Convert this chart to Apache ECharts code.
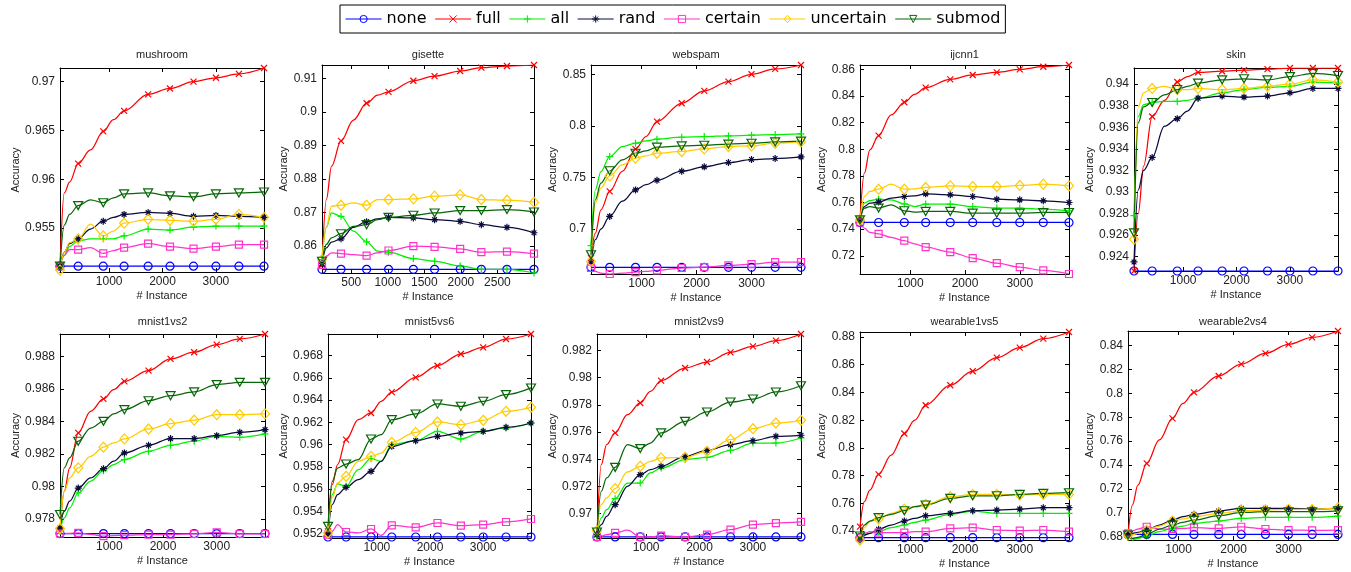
<!DOCTYPE html>
<html><head><meta charset="utf-8">
<script src="https://cdn.jsdelivr.net/npm/echarts@6/dist/echarts.min.js"></script>
<style>html,body{margin:0;padding:0;background:#fff}#c{width:1351px;height:572px}</style>
</head><body><div id="c"></div>
<script>
// ---------------- DATA ----------------
const seriesNames = ['none','full','all','rand','certain','uncertain','submod'];
const titles = ['mushroom','gisette','webspam','ijcnn1','skin','mnist1vs2','mnist5vs6','mnist2vs9','wearable1vs5','wearable2vs4'];

// x positions (# instance) of sampled points; markers sit on MARKER_IDX points
const X_STD = [80, 160, 260, 420, 650, 890, 1080, 1280, 1730, 2140, 2580, 3000, 3430, 3900];
const X_GIS = [100, 160, 230, 360, 530, 710, 860, 1010, 1350, 1640, 1990, 2280, 2630, 3000];
const MARKER_IDX = [0, 3, 5, 7, 8, 9, 10, 11, 12, 13];

// x axis ranges and tick labels
const XR_STD = [80, 3900];
const XR_GIS = [100, 3000];
const XT_STD = [1000, 2000, 3000];
const XT_GIS = [500, 1000, 1500, 2000, 2500];

// y axis ranges and tick labels
const YR_mushroom = [0.9505, 0.9714];
const YT_mushroom = [0.955, 0.96, 0.965, 0.97];
const YR_gisette = [0.852, 0.914];
const YT_gisette = [0.86, 0.87, 0.88, 0.89, 0.9, 0.91];
const YR_webspam = [0.6565, 0.859];
const YT_webspam = [0.7, 0.75, 0.8, 0.85];
const YR_ijcnn1 = [0.7063, 0.8633];
const YT_ijcnn1 = [0.72, 0.74, 0.76, 0.78, 0.8, 0.82, 0.84, 0.86];
const YR_skin = [0.92266, 0.9415];
const YT_skin = [0.924, 0.926, 0.928, 0.93, 0.932, 0.934, 0.936, 0.938, 0.94];
const YR_mnist1vs2 = [0.97689, 0.98937];
const YT_mnist1vs2 = [0.978, 0.98, 0.982, 0.984, 0.986, 0.988];
const YR_mnist5vs6 = [0.95161, 0.96995];
const YT_mnist5vs6 = [0.952, 0.954, 0.956, 0.958, 0.96, 0.962, 0.964, 0.966, 0.968];
const YR_mnist2vs9 = [0.96821, 0.9832];
const YT_mnist2vs9 = [0.97, 0.972, 0.974, 0.976, 0.978, 0.98, 0.982];
const YR_wearable1vs5 = [0.7336, 0.8836];
const YT_wearable1vs5 = [0.74, 0.76, 0.78, 0.8, 0.82, 0.84, 0.86, 0.88];
const YR_wearable2vs4 = [0.6772, 0.8523];
const YT_wearable2vs4 = [0.68, 0.7, 0.72, 0.74, 0.76, 0.78, 0.8, 0.82, 0.84];

// mushroom
const mushroom_none = [0.9511,0.9511,0.9511,0.9511,0.9511,0.9511,0.9511,0.9511,0.9511,0.9511,0.9511,0.9511,0.9511,0.9511];
const mushroom_full = [0.9511,0.9586,0.9597,0.9616,0.9630,0.9649,0.9661,0.9670,0.9687,0.9693,0.9700,0.9704,0.9708,0.9714];
const mushroom_all = [0.9511,0.9522,0.9531,0.9537,0.9539,0.9539,0.9539,0.9542,0.9549,0.9548,0.9551,0.9552,0.9552,0.9552];
const mushroom_rand = [0.9511,0.9525,0.9534,0.9539,0.9549,0.9557,0.9561,0.9564,0.9566,0.9565,0.9562,0.9563,0.9562,0.9561];
const mushroom_certain = [0.9511,0.9522,0.9528,0.9528,0.9530,0.9524,0.9527,0.9530,0.9534,0.9531,0.9529,0.9531,0.9533,0.9533];
const mushroom_uncertain = [0.9507,0.9525,0.9535,0.9539,0.9554,0.9542,0.9547,0.9555,0.9559,0.9558,0.9557,0.9559,0.9564,0.9561];
const mushroom_submod = [0.9511,0.9553,0.9564,0.9573,0.9579,0.9576,0.9581,0.9585,0.9586,0.9583,0.9582,0.9585,0.9586,0.9587];
// gisette
const gisette_none = [0.8531,0.8531,0.8531,0.8531,0.8531,0.8531,0.8531,0.8531,0.8531,0.8531,0.8531,0.8531,0.8531,0.8531];
const gisette_full = [0.8544,0.8739,0.8838,0.8914,0.8976,0.9026,0.9050,0.9060,0.9093,0.9107,0.9122,0.9132,0.9137,0.9140];
const gisette_all = [0.8560,0.8656,0.8699,0.8689,0.8645,0.8613,0.8585,0.8582,0.8563,0.8555,0.8541,0.8531,0.8531,0.8520];
const gisette_rand = [0.8548,0.8595,0.8612,0.8622,0.8656,0.8673,0.8681,0.8686,0.8684,0.8679,0.8674,0.8664,0.8656,0.8640];
const gisette_certain = [0.8544,0.8570,0.8580,0.8578,0.8575,0.8572,0.8580,0.8587,0.8600,0.8598,0.8592,0.8582,0.8584,0.8578];
const gisette_uncertain = [0.8560,0.8656,0.8719,0.8722,0.8729,0.8722,0.8739,0.8739,0.8741,0.8749,0.8753,0.8739,0.8737,0.8731];
const gisette_submod = [0.8555,0.8605,0.8625,0.8637,0.8659,0.8664,0.8679,0.8686,0.8692,0.8699,0.8706,0.8706,0.8709,0.8702];
// webspam
const webspam_none = [0.663,0.663,0.663,0.663,0.663,0.663,0.663,0.663,0.663,0.663,0.663,0.663,0.663,0.663];
const webspam_full = [0.672,0.6961,0.7187,0.7365,0.7560,0.7775,0.7897,0.8042,0.8219,0.8339,0.8429,0.8500,0.8552,0.8590];
const webspam_all = [0.6839,0.7381,0.7558,0.7703,0.7800,0.7832,0.7855,0.7871,0.7890,0.7897,0.7903,0.7910,0.7916,0.7923];
const webspam_rand = [0.6671,0.6897,0.7000,0.7123,0.7270,0.7380,0.7430,0.7474,0.7561,0.7603,0.7645,0.7674,0.7684,0.7700];
const webspam_certain = [0.6623,0.6590,0.6574,0.6565,0.6574,0.6584,0.6590,0.6600,0.6623,0.6632,0.6648,0.6661,0.6680,0.6680];
const webspam_uncertain = [0.6687,0.7252,0.7397,0.7516,0.7623,0.7687,0.7710,0.7735,0.7752,0.7777,0.7800,0.7806,0.7832,0.7845];
const webspam_submod = [0.6752,0.7284,0.7445,0.7565,0.7671,0.7735,0.7758,0.7794,0.7806,0.7813,0.7823,0.7832,0.7845,0.7852];
// ijcnn1
const ijcnn1_none = [0.745,0.745,0.745,0.745,0.745,0.745,0.745,0.745,0.745,0.745,0.745,0.745,0.745,0.745];
const ijcnn1_full = [0.747,0.782,0.7995,0.8103,0.8258,0.8353,0.8413,0.8463,0.8525,0.8558,0.8578,0.8600,0.8620,0.8633];
const ijcnn1_all = [0.747,0.7595,0.7615,0.7625,0.7620,0.7590,0.7570,0.7588,0.7588,0.7570,0.7558,0.7558,0.7550,0.7538];
const ijcnn1_rand = [0.747,0.7570,0.7595,0.7603,0.7633,0.7645,0.7650,0.7665,0.7658,0.7645,0.7625,0.7620,0.7613,0.7600];
const ijcnn1_certain = [0.745,0.7408,0.7375,0.7365,0.7338,0.7313,0.7290,0.7265,0.7228,0.7183,0.7145,0.7115,0.7090,0.7063];
const ijcnn1_uncertain = [0.747,0.7645,0.7683,0.7700,0.7738,0.7700,0.7703,0.7713,0.7725,0.7720,0.7720,0.7728,0.7738,0.7725];
const ijcnn1_submod = [0.747,0.7558,0.7570,0.7558,0.7583,0.7538,0.7528,0.7533,0.7533,0.7520,0.7520,0.7520,0.7525,0.7525];
// skin (certain not visible in the reference)
const skin_none = [0.92266,0.92266,0.92266,0.92266,0.92266,0.92266,0.92266,0.92266,0.92266,0.92266,0.92266,0.92266,0.92266,0.92266];
const skin_full = [0.92266,0.9280,0.9324,0.9370,0.9385,0.9402,0.9407,0.9411,0.9412,0.9413,0.9414,0.9415,0.9415,0.9415];
const skin_all = [0.9278,0.9370,0.9381,0.9383,0.9384,0.9384,0.9385,0.9387,0.9392,0.9395,0.9397,0.9398,0.9402,0.9401];
const skin_rand = [0.9235,0.9302,0.9320,0.9332,0.9361,0.9368,0.9375,0.9387,0.9389,0.9388,0.9389,0.9392,0.9396,0.9396];
const skin_certain = [null,null,null,null,null,null,null,null,null,null,null,null,null,null];
const skin_uncertain = [0.9256,0.9379,0.9392,0.9396,0.9398,0.9395,0.9395,0.9396,0.9395,0.9396,0.9398,0.9400,0.9404,0.9402];
const skin_submod = [0.9262,0.9364,0.9379,0.9383,0.9390,0.9395,0.9398,0.9401,0.9404,0.9405,0.9404,0.9407,0.9410,0.9408];
// mnist1vs2
const mnist1vs2_none = [0.9771,0.9771,0.9771,0.9771,0.9771,0.9771,0.9771,0.9771,0.9771,0.9771,0.9771,0.9771,0.9771,0.9771];
const mnist1vs2_full = [0.97724,0.9797,0.98114,0.98329,0.98462,0.98538,0.98595,0.98646,0.98712,0.98784,0.98825,0.98872,0.98907,0.98937];
const mnist1vs2_all = [0.97724,0.97806,0.97868,0.97960,0.98032,0.98097,0.98134,0.98165,0.98216,0.98253,0.98278,0.98308,0.98302,0.98323];
const mnist1vs2_rand = [0.97745,0.97847,0.97909,0.97990,0.98052,0.98109,0.98155,0.98206,0.98253,0.98294,0.98294,0.98312,0.98333,0.98349];
const mnist1vs2_certain = [0.9771,0.9771,0.97712,0.97714,0.97705,0.97694,0.97698,0.97700,0.97704,0.97704,0.97708,0.97718,0.97708,0.97708];
const mnist1vs2_uncertain = [0.97741,0.97970,0.98052,0.98114,0.98185,0.98241,0.98267,0.98292,0.98353,0.98386,0.98407,0.98441,0.98441,0.98446];
const mnist1vs2_submod = [0.97827,0.98114,0.98175,0.98278,0.98359,0.98400,0.98446,0.98472,0.98527,0.98558,0.98581,0.98626,0.98640,0.98640];
// mnist5vs6
const mnist5vs6_none = [0.9517,0.9517,0.9517,0.9517,0.9517,0.9517,0.9517,0.9517,0.9517,0.9517,0.9517,0.9517,0.9517,0.9517];
const mnist5vs6_full = [0.95221,0.95641,0.95820,0.96045,0.96225,0.96285,0.96390,0.96473,0.96605,0.96710,0.96815,0.96875,0.96950,0.96995];
const mnist5vs6_all = [0.95221,0.95551,0.95647,0.95626,0.95775,0.95874,0.95850,0.96000,0.96036,0.96120,0.96051,0.96120,0.96150,0.96195];
const mnist5vs6_rand = [0.95191,0.95461,0.95551,0.95617,0.95686,0.95760,0.95850,0.95985,0.96036,0.96075,0.96105,0.96120,0.96156,0.96195];
const mnist5vs6_certain = [0.95191,0.95221,0.95281,0.95215,0.95206,0.95242,0.95185,0.95275,0.95257,0.95296,0.95272,0.95281,0.95305,0.95332];
const mnist5vs6_uncertain = [0.95206,0.95521,0.95656,0.95716,0.95850,0.95895,0.95925,0.96021,0.96111,0.96204,0.96180,0.96219,0.96300,0.96336];
const mnist5vs6_submod = [0.95266,0.95670,0.95790,0.95826,0.95865,0.96051,0.96090,0.96225,0.96276,0.96366,0.96345,0.96390,0.96450,0.96510];
// mnist2vs9
const mnist2vs9_none = [0.96829,0.96829,0.96829,0.96829,0.96829,0.96829,0.96829,0.96829,0.96829,0.96829,0.96829,0.96829,0.96829,0.96829];
const mnist2vs9_full = [0.96846,0.97360,0.97507,0.97593,0.97727,0.97813,0.97899,0.97977,0.98070,0.98114,0.98185,0.98229,0.98271,0.98320];
const mnist2vs9_all = [0.96833,0.96968,0.97029,0.97110,0.97225,0.97225,0.97299,0.97335,0.97397,0.97414,0.97465,0.97519,0.97519,0.97556];
const mnist2vs9_rand = [0.96846,0.96919,0.96980,0.97066,0.97201,0.97287,0.97323,0.97348,0.97421,0.97465,0.97507,0.97536,0.97568,0.97576];
const mnist2vs9_certain = [0.96829,0.96834,0.96846,0.96858,0.96878,0.96829,0.96829,0.96838,0.96829,0.96846,0.96882,0.96919,0.96931,0.96939];
const mnist2vs9_uncertain = [0.96875,0.97066,0.97115,0.97184,0.97306,0.97348,0.97384,0.97410,0.97414,0.97458,0.97544,0.97624,0.97666,0.97686];
const mnist2vs9_submod = [0.96865,0.97164,0.97262,0.97340,0.97507,0.97478,0.97519,0.97593,0.97678,0.97747,0.97820,0.97842,0.97894,0.97940];
// wearable1vs5
const wearable1vs5_none = [0.7353,0.7353,0.7353,0.7353,0.7353,0.7353,0.7353,0.7353,0.7353,0.7353,0.7353,0.7353,0.7353,0.7353];
const wearable1vs5_full = [0.7432,0.7612,0.7696,0.7809,0.7948,0.8104,0.8200,0.8308,0.8452,0.8553,0.8651,0.8723,0.8788,0.8836];
const wearable1vs5_all = [0.7348,0.7372,0.7384,0.7396,0.7425,0.7444,0.7463,0.7480,0.7521,0.7545,0.7528,0.7528,0.7528,0.7528];
const wearable1vs5_rand = [0.7336,0.7372,0.7384,0.7413,0.7444,0.7473,0.7492,0.7511,0.7528,0.7547,0.7552,0.7559,0.7569,0.7569];
const wearable1vs5_certain = [0.7353,0.7384,0.7396,0.7389,0.7389,0.7389,0.7396,0.7396,0.7420,0.7425,0.7408,0.7403,0.7408,0.7396];
const wearable1vs5_uncertain = [0.7336,0.7425,0.7468,0.7487,0.7528,0.7559,0.7576,0.7593,0.7648,0.7665,0.7665,0.7660,0.7665,0.7665];
const wearable1vs5_submod = [0.7365,0.7444,0.7473,0.7497,0.7521,0.7547,0.7576,0.7588,0.7636,0.7655,0.7655,0.7665,0.7672,0.7677];
// wearable2vs4
const wearable2vs4_none = [0.6819,0.6819,0.6819,0.6819,0.6819,0.6819,0.6819,0.6819,0.6819,0.6819,0.6819,0.6819,0.6819,0.6819];
const wearable2vs4_full = [0.6814,0.7065,0.7232,0.7414,0.7610,0.7791,0.7917,0.8009,0.8146,0.8246,0.8336,0.8411,0.8470,0.8523];
const wearable2vs4_all = [0.6814,0.6772,0.6786,0.6805,0.6842,0.6870,0.6889,0.6911,0.6931,0.6953,0.6962,0.6962,0.6962,0.6973];
const wearable2vs4_rand = [0.6828,0.6828,0.6836,0.6855,0.6897,0.6939,0.6967,0.6987,0.7015,0.7037,0.7037,0.7037,0.7031,0.7037];
const wearable2vs4_certain = [0.6828,0.6847,0.6864,0.6883,0.6864,0.6864,0.6870,0.6875,0.6870,0.6883,0.6864,0.6855,0.6853,0.6855];
const wearable2vs4_uncertain = [0.6814,0.6814,0.6828,0.6855,0.6889,0.6931,0.6948,0.6967,0.6995,0.7017,0.7023,0.7029,0.7029,0.7043];
const wearable2vs4_submod = [0.6814,0.6786,0.6794,0.6819,0.6864,0.6897,0.6920,0.6939,0.6976,0.7003,0.7009,0.7009,0.7009,0.7017];

// ---------------- assembly ----------------
const PANELS = [
  {x:X_STD, xr:XR_STD, xt:XT_STD, yr:YR_mushroom, yt:YT_mushroom, d:[mushroom_none,mushroom_full,mushroom_all,mushroom_rand,mushroom_certain,mushroom_uncertain,mushroom_submod]},
  {x:X_GIS, xr:XR_GIS, xt:XT_GIS, yr:YR_gisette, yt:YT_gisette, d:[gisette_none,gisette_full,gisette_all,gisette_rand,gisette_certain,gisette_uncertain,gisette_submod]},
  {x:X_STD, xr:XR_STD, xt:XT_STD, yr:YR_webspam, yt:YT_webspam, d:[webspam_none,webspam_full,webspam_all,webspam_rand,webspam_certain,webspam_uncertain,webspam_submod]},
  {x:X_STD, xr:XR_STD, xt:XT_STD, yr:YR_ijcnn1, yt:YT_ijcnn1, d:[ijcnn1_none,ijcnn1_full,ijcnn1_all,ijcnn1_rand,ijcnn1_certain,ijcnn1_uncertain,ijcnn1_submod]},
  {x:X_STD, xr:XR_STD, xt:XT_STD, yr:YR_skin, yt:YT_skin, d:[skin_none,skin_full,skin_all,skin_rand,skin_certain,skin_uncertain,skin_submod]},
  {x:X_STD, xr:XR_STD, xt:XT_STD, yr:YR_mnist1vs2, yt:YT_mnist1vs2, d:[mnist1vs2_none,mnist1vs2_full,mnist1vs2_all,mnist1vs2_rand,mnist1vs2_certain,mnist1vs2_uncertain,mnist1vs2_submod]},
  {x:X_STD, xr:XR_STD, xt:XT_STD, yr:YR_mnist5vs6, yt:YT_mnist5vs6, d:[mnist5vs6_none,mnist5vs6_full,mnist5vs6_all,mnist5vs6_rand,mnist5vs6_certain,mnist5vs6_uncertain,mnist5vs6_submod]},
  {x:X_STD, xr:XR_STD, xt:XT_STD, yr:YR_mnist2vs9, yt:YT_mnist2vs9, d:[mnist2vs9_none,mnist2vs9_full,mnist2vs9_all,mnist2vs9_rand,mnist2vs9_certain,mnist2vs9_uncertain,mnist2vs9_submod]},
  {x:X_STD, xr:XR_STD, xt:XT_STD, yr:YR_wearable1vs5, yt:YT_wearable1vs5, d:[wearable1vs5_none,wearable1vs5_full,wearable1vs5_all,wearable1vs5_rand,wearable1vs5_certain,wearable1vs5_uncertain,wearable1vs5_submod]},
  {x:X_STD, xr:XR_STD, xt:XT_STD, yr:YR_wearable2vs4, yt:YT_wearable2vs4, d:[wearable2vs4_none,wearable2vs4_full,wearable2vs4_all,wearable2vs4_rand,wearable2vs4_certain,wearable2vs4_uncertain,wearable2vs4_submod]}
];

// layout (pixels) — kept separate from the data
const LAYOUT = [
  {left:60,  top:68,  width:204, height:204, yGap:37, titleTop:49},
  {left:322, top:65,  width:212, height:208, yGap:31, titleTop:49},
  {left:591, top:65,  width:210, height:209, yGap:31, titleTop:49},
  {left:860, top:65,  width:209, height:209, yGap:32, titleTop:49},
  {left:1134,top:68,  width:204, height:203, yGap:37, titleTop:49},
  {left:60,  top:334, width:205, height:203, yGap:37, titleTop:316},
  {left:328, top:334, width:203, height:204, yGap:37, titleTop:316},
  {left:597, top:334, width:204, height:204, yGap:37, titleTop:316},
  {left:860, top:332, width:209, height:208, yGap:32, titleTop:316},
  {left:1128,top:331, width:210, height:209, yGap:32, titleTop:316}
];

const COLORS = {none:'#0000ff', full:'#ff0000', all:'#00f000', rand:'#0a0a3c', certain:'#ff33cc', uncertain:'#ffcc00', submod:'#086608'};
const SYMBOLS = {
  none:'circle',
  full:'path://M0,0L10,10M10,0L0,10',
  all:'path://M5,0L5,10M0,5L10,5',
  rand:'path://M5,0L5,10M0,5L10,5M1.6,1.6L8.4,8.4M8.4,1.6L1.6,8.4',
  certain:'rect',
  uncertain:'diamond',
  submod:'path://M0,0L10,0L5,9Z'
};
const SIZES = {none:8, full:6, all:7, rand:7, certain:7, uncertain:[9,10], submod:[9,8]};

const FF = "'Liberation Sans', Arial, sans-serif";
const TXT = '#222';
const fmt = v => String(parseFloat(Number(v).toFixed(6)));

const grids = [], xAxes = [], yAxes = [], series = [], titleOpts = [];
const markerSet = new Set(MARKER_IDX);

PANELS.forEach((p, i) => {
  const L = LAYOUT[i];
  grids.push({left:L.left, top:L.top, width:L.width, height:L.height, containLabel:false, outerBoundsMode:'none'});
  titleOpts.push({text:titles[i], left:L.left + L.width/2, top:L.titleTop, textAlign:'center', padding:0,
    textStyle:{fontSize:11, fontWeight:'normal', color:TXT, fontFamily:FF}});
  const axisLine = {show:true, onZero:false, lineStyle:{color:'#000', width:1}};
  const tick = vals => ({show:true, inside:true, length:4, customValues:vals, lineStyle:{color:'#000', width:1}});
  xAxes.push({gridIndex:i, type:'value', position:'bottom', min:p.xr[0], max:p.xr[1], axisLine, axisTick:tick(p.xt),
    axisLabel:{customValues:p.xt, margin:4, fontSize:12, fontFamily:FF, color:TXT, formatter:fmt},
    splitLine:{show:false}, name:'# Instance', nameLocation:'middle', nameGap:18,
    nameTextStyle:{fontSize:11, fontFamily:FF, color:TXT}});
  xAxes.push({gridIndex:i, type:'value', position:'top', min:p.xr[0], max:p.xr[1], axisLine, axisTick:tick(p.xt),
    axisLabel:{show:false}, splitLine:{show:false}});
  yAxes.push({gridIndex:i, type:'value', position:'left', min:p.yr[0], max:p.yr[1], axisLine, axisTick:tick(p.yt),
    axisLabel:{customValues:p.yt, margin:5, fontSize:12, fontFamily:FF, color:TXT, formatter:fmt},
    splitLine:{show:false}, name:'Accuracy', nameLocation:'middle', nameGap:L.yGap,
    nameTextStyle:{fontSize:11, fontFamily:FF, color:TXT}});
  yAxes.push({gridIndex:i, type:'value', position:'right', min:p.yr[0], max:p.yr[1], axisLine, axisTick:tick(p.yt),
    axisLabel:{show:false}, splitLine:{show:false}});

  seriesNames.forEach((name, s) => {
    const ys = p.d[s];
    const data = p.x.map((xv, k) => {
      const yv = ys[k];
      if (yv === null) return {value:[xv, null], symbol:'none'};
      return markerSet.has(k) ? {value:[xv, yv]} : {value:[xv, yv], symbol:'none'};
    });
    series.push({
      type:'line', name, xAxisIndex:2*i, yAxisIndex:2*i, data,
      symbol:SYMBOLS[name], symbolSize:SIZES[name], showAllSymbol:true,
      smooth:0.35, smoothMonotone:'x', connectNulls:false,
      lineStyle:{color:COLORS[name], width:1.25},
      itemStyle:{color:'rgba(0,0,0,0)', borderColor:COLORS[name], borderWidth:1.2},
      emphasis:{disabled:true}, animation:false
    });
  });
});

const option = {
  backgroundColor:'#fff',
  animation:false,
  title:titleOpts,
  legend:{
    left:340, top:5, padding:[6,5], itemGap:8, itemWidth:36, itemHeight:9,
    borderColor:'#000', borderWidth:1, backgroundColor:'#fff',
    textStyle:{fontSize:16, fontFamily:"'DejaVu Sans', sans-serif", color:'#000'},
    data:seriesNames.map(n => ({name:n,
      itemStyle:{color:'rgba(0,0,0,0)', borderColor:COLORS[n], borderWidth:1},
      lineStyle:{color:COLORS[n], width:1.2}}))
  },
  grid:grids, xAxis:xAxes, yAxis:yAxes, series
};

const chart = echarts.init(document.getElementById('c'));
chart.setOption(option);
</script>
</body></html>
